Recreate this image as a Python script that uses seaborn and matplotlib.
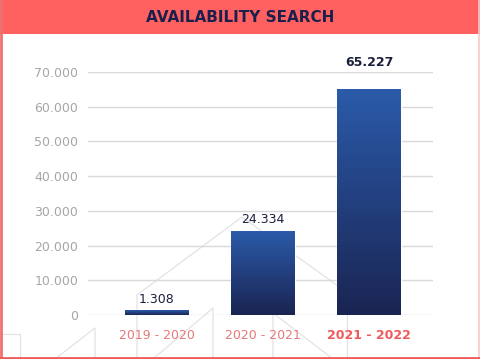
import numpy as np
import pandas as pd
import matplotlib
matplotlib.use('Agg')
import matplotlib.pyplot as plt
import seaborn as sns
from matplotlib.patches import Rectangle
from matplotlib.lines import Line2D
from matplotlib.ticker import FuncFormatter

# data
seasons = ['2019 - 2020', '2020 - 2021', '2021 - 2022']
searches = [1308, 24334, 65227]

sns.set_style('white')
plt.rcParams['font.family'] = ['DejaVu Sans']

df = pd.DataFrame({'season': seasons, 'searches': searches})

W, H = 480, 359
fig = plt.figure(figsize=(4.8, 3.59), dpi=100)
fig.patch.set_facecolor('white')

# faint background decoration (pixel coords, top-left origin)
deco = [[(0, 334), (20, 334), (20, 359)],
        [(55, 359), (95, 328), (95, 359)],
        [(137, 359), (137, 295), (242, 217), (345, 291)],
        [(153, 359), (213, 308), (213, 359)],
        [(273, 359), (273, 313), (333, 359)],
        [(347, 359), (347, 313)]]
for pts in deco:
    xs = [p[0] / W for p in pts]
    ys = [1 - p[1] / H for p in pts]
    fig.add_artist(Line2D(xs, ys, color='#E3E3E3', lw=0.9, zorder=0))

ax = fig.add_axes([88 / W, 1 - 315 / H, 345 / W, 243 / H])
ax.set_facecolor('none')
sns.barplot(data=df, x='season', y='searches', ax=ax, width=0.6, color='#23408A', zorder=3)

ax.set_yticks(range(0, 70001, 10000))
ax.yaxis.set_major_formatter(FuncFormatter(lambda v, p: f'{int(v):,}'.replace(',', '.')))
ax.grid(axis='y', color='#D9D9D9', lw=1, zorder=0)
for s in ax.spines.values():
    s.set_visible(False)
ax.tick_params(axis='both', length=0)
ax.tick_params(axis='y', colors='#A6A6A6', labelsize=9, pad=7)
ax.tick_params(axis='x', labelsize=9, pad=10)
for i, lab in enumerate(ax.get_xticklabels()):
    if i == len(seasons) - 1:
        lab.set_color('#F05A5A')
        lab.set_fontweight('bold')
    else:
        lab.set_color('#E87878')
ax.set_xlabel('')
ax.set_ylabel('')

# gradient fill on bars
grad = np.linspace(0, 1, 256).reshape(-1, 1)
cmap = matplotlib.colors.LinearSegmentedColormap.from_list('g', ['#1A2452', '#2B5BAA'])
for bar in ax.patches:
    x, y = bar.get_x(), bar.get_y()
    w, h = bar.get_width(), bar.get_height()
    im = ax.imshow(grad, extent=[x, x + w, y, y + h], origin='lower', cmap=cmap,
                   aspect='auto', zorder=3)
    im.set_clip_path(bar)
    bar.set_facecolor('none')
ax.set_xlim(-0.65, 2.6)
ax.set_ylim(0, 70000)

for i, v in enumerate(searches):
    bold = i == len(searches) - 1
    ax.annotate(f'{v:,}'.replace(',', '.'), (i, v), xytext=(0, 14 if bold else 3),
                textcoords='offset points', ha='center', va='bottom',
                fontsize=9, color='#1B1F3B', fontweight='bold' if bold else 'normal',
                annotation_clip=False, zorder=5)

# header band and frame
fig.add_artist(Rectangle((0, 1 - 34 / H), 1, 34 / H, transform=fig.transFigure,
                         facecolor='#FF6161', edgecolor='none', zorder=1))
fig.text(0.5, 1 - 17 / H, 'AVAILABILITY SEARCH', ha='center', va='center',
         fontsize=11, fontweight='bold', color='#1B1F4B')
fig.add_artist(Line2D([0.003, 0.003], [0, 1], color='#F07070', lw=2, zorder=1))
fig.add_artist(Line2D([0.997, 0.997], [0, 1], color='#F8C8C8', lw=1.2, zorder=1))
fig.add_artist(Line2D([0, 1], [0.004, 0.004], color='#F05A5A', lw=2, zorder=1))

fig.savefig('out.png', dpi=100)
